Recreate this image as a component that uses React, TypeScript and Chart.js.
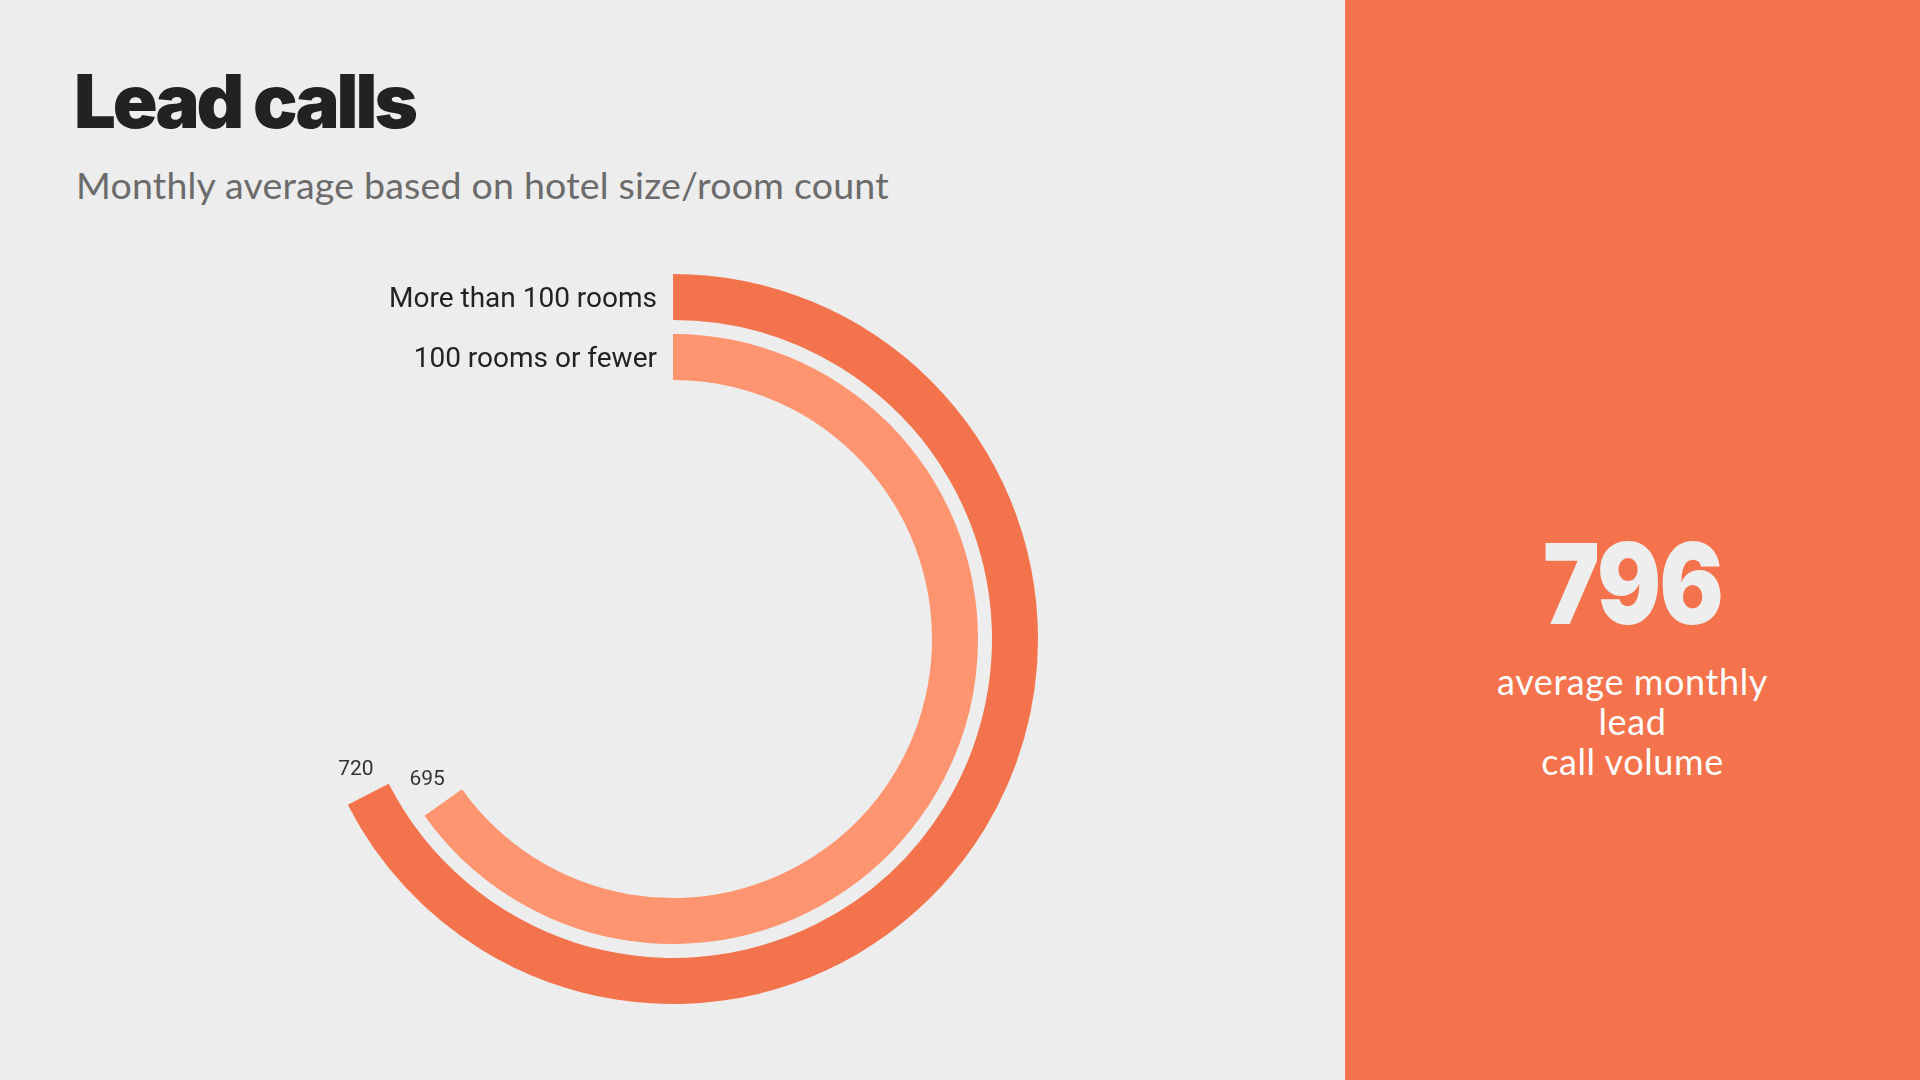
import React, { useEffect, useRef } from "react";
import { Chart, registerables } from "chart.js";

Chart.register(...registerables);

const categories = ["More than 100 rooms", "100 rooms or fewer"];
const values = [720, 695];
const scaleMax = 800;
const summaryValue = 796;
const summaryLines = ["average monthly", "lead", "call volume"];
const titleText = "Lead calls";
const subtitleText = "Monthly average based on hotel size/room count";

const BG = "#EDEDED";
const OUTER = "#F3734D";
const INNER = "#FF9570";
const PANEL = "#F4734D";

const labelPlugin = {
  id: "ringLabels",
  afterDatasetsDraw(chart: any) {
    const ctx = chart.ctx;
    ctx.save();
    chart.data.datasets.forEach((ds: any, i: number) => {
      if (ds.isSpacer) return;
      const meta = chart.getDatasetMeta(i);
      const arc: any = meta.data[0];
      if (!arc) return;
      const { x, y, startAngle, endAngle, innerRadius, outerRadius } = arc.getProps(
        ["x", "y", "startAngle", "endAngle", "innerRadius", "outerRadius"],
        true
      );
      const rMid = (innerRadius + outerRadius) / 2;
      // category label at the start of the ring (top)
      ctx.font = "400 28px Roboto";
      ctx.fillStyle = "#222222";
      ctx.textAlign = "right";
      ctx.textBaseline = "middle";
      const sx = x + rMid * Math.cos(startAngle);
      const sy = y + rMid * Math.sin(startAngle);
      ctx.fillText(ds.label, sx - 16, sy + 3);
      // value label just beyond the end of the arc
      const a = endAngle + 30 / rMid;
      ctx.font = "400 21px Roboto";
      ctx.fillStyle = "#333333";
      ctx.textAlign = "center";
      ctx.fillText(String(ds.data[0]), x + rMid * Math.cos(a), y + rMid * Math.sin(a) + 3);
    });
    ctx.restore();
  },
};

function RingChart() {
  const ref = useRef<HTMLCanvasElement | null>(null);
  useEffect(() => {
    if (!ref.current) return;
    const chart = new Chart(ref.current, {
      type: "doughnut",
      data: {
        labels: ["value", "rest"],
        datasets: [
          {
            label: categories[0],
            data: [values[0], scaleMax - values[0]],
            backgroundColor: [OUTER, "rgba(0,0,0,0)"],
            borderWidth: 0,
            weight: 46,
          } as any,
          {
            label: "",
            isSpacer: true,
            data: [0, 0],
            backgroundColor: ["rgba(0,0,0,0)", "rgba(0,0,0,0)"],
            borderWidth: 0,
            weight: 14,
          } as any,
          {
            label: categories[1],
            data: [values[1], scaleMax - values[1]],
            backgroundColor: [INNER, "rgba(0,0,0,0)"],
            borderWidth: 0,
            weight: 46,
          } as any,
        ],
      },
      options: {
        animation: false,
        responsive: false,
        maintainAspectRatio: false,
        circumference: 270,
        rotation: 0,
        cutout: "70.96%",
        layout: { padding: 0 },
        plugins: {
          legend: { display: false },
          tooltip: { enabled: false },
        },
      } as any,
      plugins: [labelPlugin],
    });
    return () => chart.destroy();
  }, []);
  return (
    <canvas
      ref={ref}
      width={1000}
      height={730}
      style={{ position: "absolute", left: 173, top: 274, width: 1000, height: 730 }}
    />
  );
}

export default function App() {
  return (
    <div
      style={{
        position: "absolute",
        left: 0,
        top: 0,
        width: 1920,
        height: 1080,
        background: BG,
        overflow: "hidden",
      }}
    >
      <div
        style={{
          position: "absolute",
          left: 74,
          top: 56,
          fontFamily: "Inter",
          fontWeight: 900,
          fontSize: 74,
          lineHeight: "90px",
          color: "#222222",
          letterSpacing: -3,
          whiteSpace: "nowrap",
        }}
      >
        {titleText}
      </div>
      <div
        style={{
          position: "absolute",
          left: 76,
          top: 162,
          fontFamily: "Lato",
          fontWeight: 400,
          fontSize: 37.5,
          lineHeight: "46px",
          color: "#6B6B6B",
          letterSpacing: 0.2,
          whiteSpace: "nowrap",
        }}
      >
        {subtitleText}
      </div>
      <RingChart />
      <div
        style={{
          position: "absolute",
          left: 1345,
          top: 0,
          width: 575,
          height: 1080,
          background: PANEL,
        }}
      >
        <div
          style={{
            position: "absolute",
            left: 0,
            width: 575,
            top: 518,
            textAlign: "center",
            fontFamily: "Inter",
            fontWeight: 900,
            fontSize: 112,
            lineHeight: "130px",
            color: "#EEEEEE",
            letterSpacing: -2,
            transform: "scaleX(0.85)",
          }}
        >
          {summaryValue}
        </div>
        <div
          style={{
            position: "absolute",
            left: 0,
            width: 575,
            top: 661,
            textAlign: "center",
            fontFamily: "Lato",
            fontWeight: 400,
            fontSize: 36,
            lineHeight: "40px",
            letterSpacing: 0.6,
            color: "#FFFFFF",
          }}
        >
          {summaryLines.map((l) => (
            <div key={l}>{l}</div>
          ))}
        </div>
      </div>
    </div>
  );
}
